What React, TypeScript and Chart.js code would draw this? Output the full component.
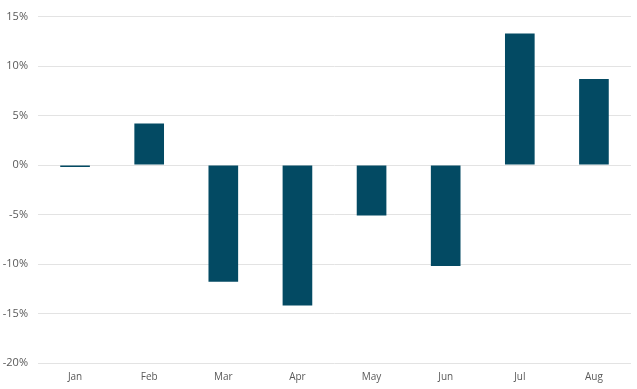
import React, { useEffect, useRef } from "react";
import { Chart, registerables } from "chart.js";

Chart.register(...registerables);

const categories = ["Jan", "Feb", "Mar", "Apr", "May", "Jun", "Jul", "Aug"];
const values = [-0.2, 4.2, -11.8, -14.2, -5.1, -10.2, 13.3, 8.7];
const yMin = -20;
const yMax = 15;
const yStep = 5;

export default function App() {
  const ref = useRef<HTMLCanvasElement | null>(null);

  useEffect(() => {
    document.body.style.margin = "0";
    const canvas = ref.current;
    if (!canvas) return;
    const chart = new Chart(canvas, {
      type: "bar",
      data: {
        labels: categories,
        datasets: [
          {
            data: values,
            backgroundColor: "#034a63",
            borderColor: "#3f7487",
            borderWidth: 0,
            barPercentage: 0.8,
            categoryPercentage: 0.5,
          },
        ],
      },
      options: {
        animation: false,
        responsive: false,
        maintainAspectRatio: false,
        layout: { padding: { top: 15, right: 6, bottom: 0, left: 0 } },
        plugins: { legend: { display: false }, tooltip: { enabled: false } },
        scales: {
          x: {
            grid: { display: false, drawTicks: false },
            border: { display: false },
            ticks: {
              color: "#595959",
              font: { family: "Open Sans", size: 10 },
              padding: 8,
            },
            afterFit: (s: any) => {
              s.height = 26;
            },
          },
          y: {
            min: yMin,
            max: yMax,
            grid: { color: "#e3e3e3", lineWidth: 1, drawTicks: false },
            border: { display: false },
            ticks: {
              stepSize: yStep,
              color: "#595959",
              font: { family: "Open Sans", size: 11 },
              padding: 10,
              callback: (v: any) => `${v}%`,
            },
            afterFit: (s: any) => {
              s.width = 38;
            },
          },
        },
      },
    });
    return () => chart.destroy();
  }, []);

  return <canvas ref={ref} width={637} height={389} style={{ display: "block" }} />;
}
